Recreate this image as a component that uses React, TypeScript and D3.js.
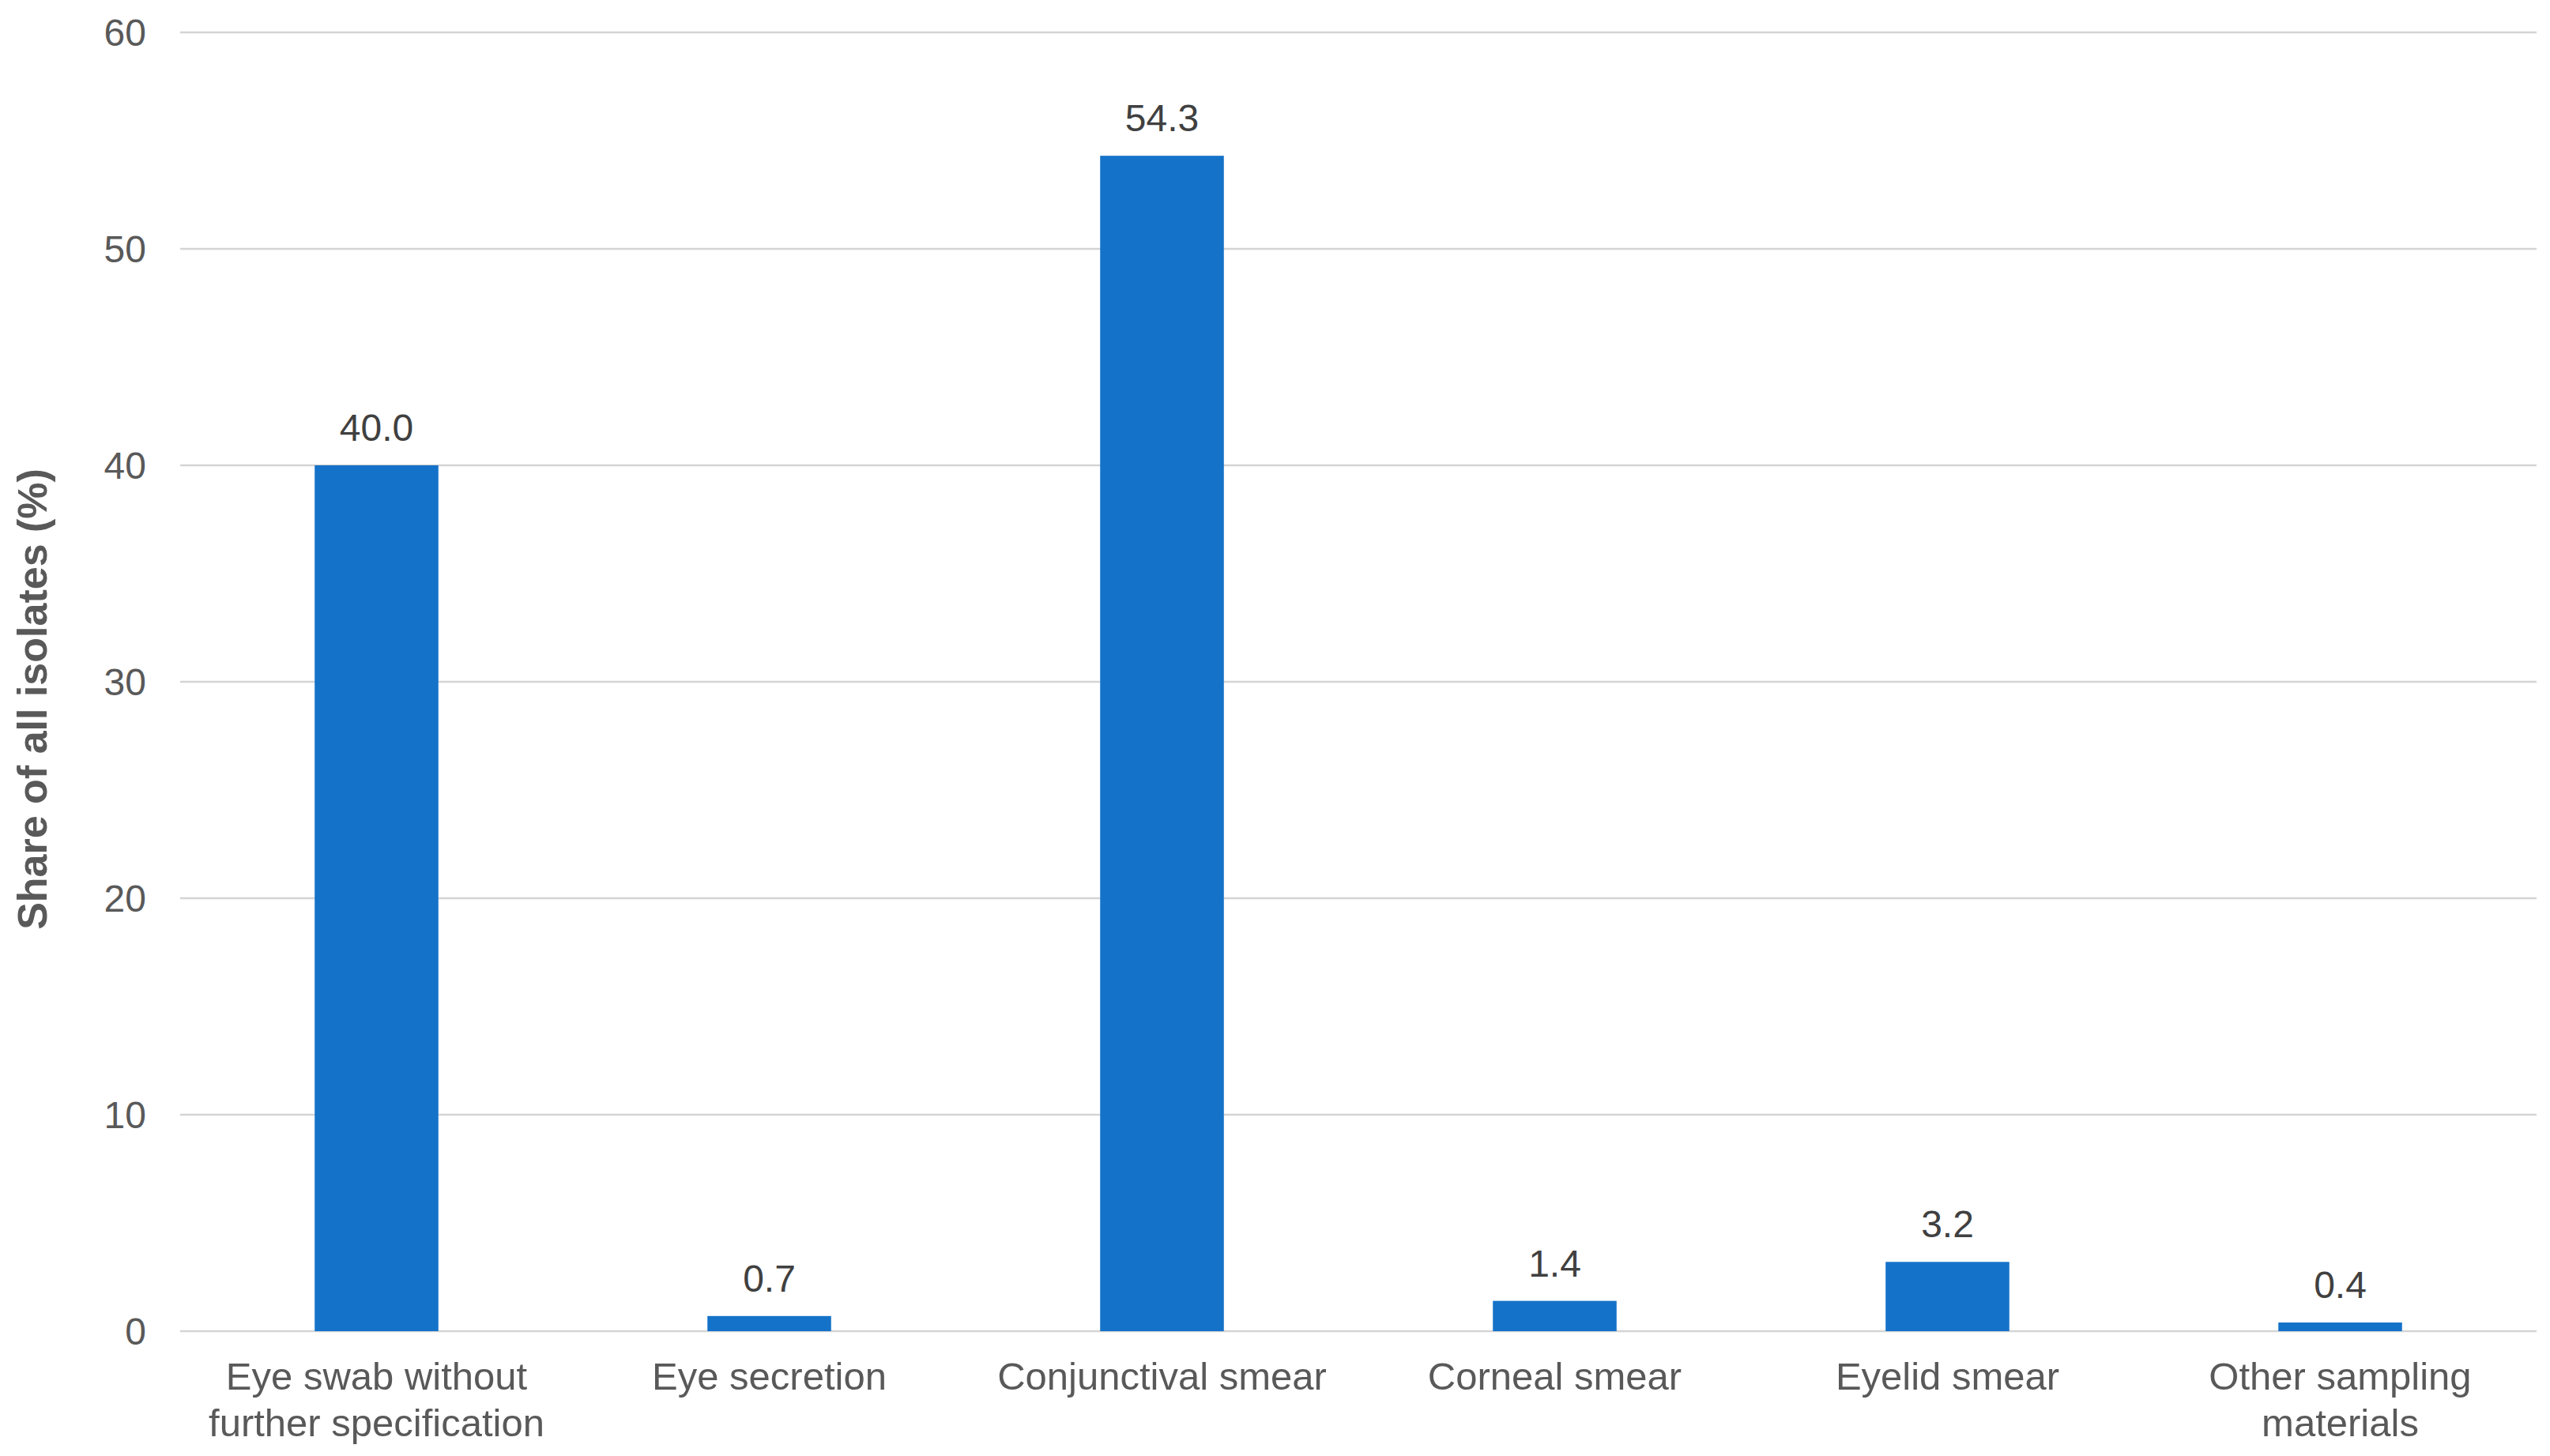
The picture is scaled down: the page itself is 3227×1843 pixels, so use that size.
import React, { useEffect } from 'react';
import * as d3 from 'd3';

const categories = [
    ['Eye swab without', 'further specification'],
    ['Eye secretion'],
    ['Conjunctival smear'],
    ['Corneal smear'],
    ['Eyelid smear'],
    ['Other sampling', 'materials'],
];
const shares = [40.0, 0.7, 54.3, 1.4, 3.2, 0.4];
const y_ticks = [0, 10, 20, 30, 40, 50, 60];
const y_label = 'Share of all isolates (%)';

const width = 3227;
const height = 1843;
const margin = { left: 228, right: 17, top: 41, bottom: 158 };
const font = '"Liberation Sans", Arial, sans-serif';

export default function App() {
    useEffect(() => {
        document.body.style.margin = '0';
    }, []);

    const x = d3
        .scaleBand<number>()
        .domain(d3.range(categories.length))
        .range([margin.left, width - margin.right])
        .paddingInner(0.685)
        .paddingOuter(0.3425);

    const y = d3
        .scaleLinear()
        .domain([0, 60])
        .range([height - margin.bottom, margin.top]);

    return (
        <svg width={width} height={height} style={{ display: 'block', background: '#fff' }}>
            {/* gridlines + y tick labels */}
            {y_ticks.map((t) => (
                <g key={t}>
                    <line
                        x1={margin.left}
                        x2={width - margin.right}
                        y1={y(t)}
                        y2={y(t)}
                        stroke="#d4d4d4"
                        strokeWidth={2.5}
                    />
                    <text
                        x={185}
                        y={y(t)}
                        dy="0.35em"
                        textAnchor="end"
                        fontFamily={font}
                        fontSize={48}
                        fill="#595959"
                    >
                        {t}
                    </text>
                </g>
            ))}

            {/* bars */}
            {shares.map((v, i) => (
                <g key={i}>
                    <rect
                        x={x(i)}
                        y={y(v)}
                        width={x.bandwidth()}
                        height={y(0) - y(v)}
                        fill="#1572c9"
                    />
                    <text
                        x={x(i)! + x.bandwidth() / 2}
                        y={y(v) - 31}
                        textAnchor="middle"
                        fontFamily={font}
                        fontSize={48}
                        fill="#404040"
                    >
                        {v.toFixed(1)}
                    </text>
                </g>
            ))}

            {/* category labels */}
            {categories.map((lines, i) => (
                <text
                    key={i}
                    textAnchor="middle"
                    fontFamily={font}
                    fontSize={49}
                    fill="#595959"
                >
                    {lines.map((l, j) => (
                        <tspan key={j} x={x(i)! + x.bandwidth() / 2} y={y(0) + 74 + j * 59}>
                            {l}
                        </tspan>
                    ))}
                </text>
            ))}

            {/* y axis title */}
            <text
                transform={`translate(59,${(y(0) + y(60)) / 2 + 22}) rotate(-90)`}
                textAnchor="middle"
                fontFamily={font}
                fontSize={52}
                fontWeight="bold"
                fill="#595959"
            >
                {y_label}
            </text>
        </svg>
    );
}
